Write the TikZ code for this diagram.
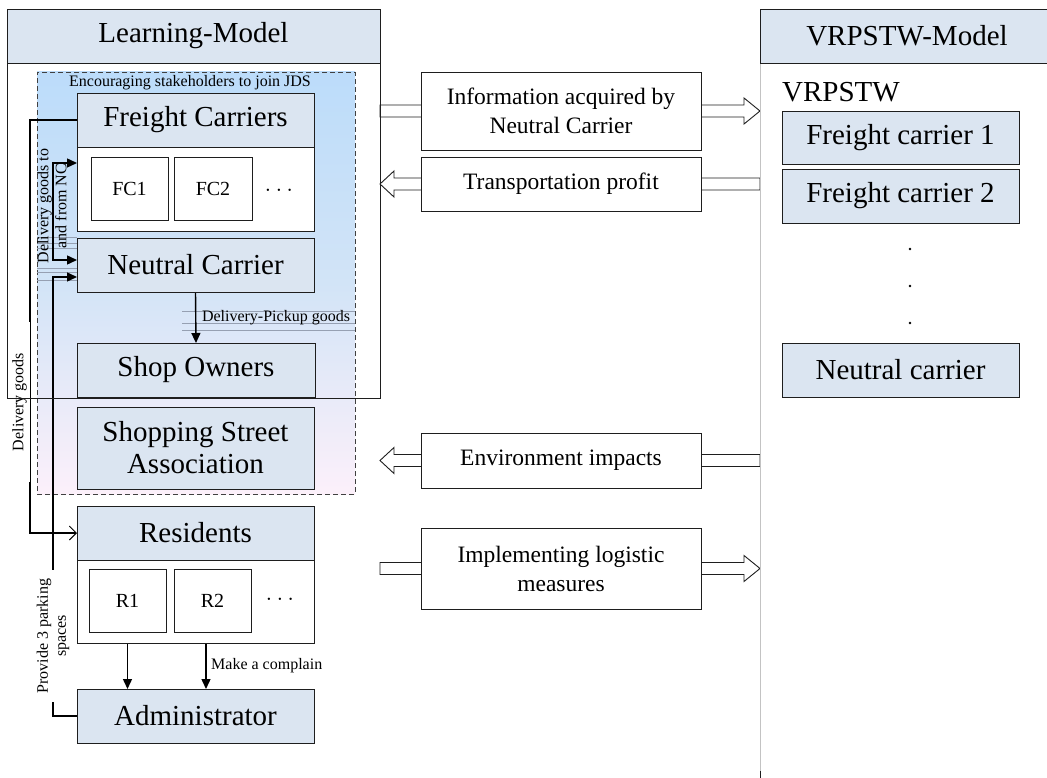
\documentclass[tikz,border=0pt]{standalone}
\usepackage{fontspec}
\setmainfont{Liberation Serif}
\usetikzlibrary{arrows.meta,calc}

\definecolor{hdrfill}{RGB}{219,229,241}
\definecolor{edge}{RGB}{30,30,30}
\definecolor{jdstop}{RGB}{188,220,250}
\definecolor{jdsmid}{RGB}{210,228,247}
\definecolor{jdsbot}{RGB}{252,240,250}
\definecolor{hatch}{RGB}{150,160,178}
\definecolor{panelline}{RGB}{195,195,195}

\newcommand{\fBig}{\fontsize{29}{32}\selectfont}
\newcommand{\fMid}{\fontsize{23.5}{29}\selectfont}
\newcommand{\fSmall}{\fontsize{16}{18}\selectfont}
\newcommand{\fItem}{\fontsize{20}{22}\selectfont}
\newcommand{\fDots}{\fontsize{26}{28}\selectfont}

\pgfdeclarelayer{back}
\pgfdeclarelayer{wires}
\pgfsetlayers{back,wires,main}

\tikzset{
  box/.style={rectangle, draw=edge, line width=0.9pt, inner sep=0pt, outer sep=0pt,
              anchor=north west, align=center, font=\fBig},
  hdr/.style={box, fill=hdrfill},
  wbox/.style={box, fill=white},
  item/.style={box, fill=white, font=\fItem},
  midbox/.style={box, fill=white, font=\fMid},
  jdsbox/.style={rectangle, anchor=north west, draw=edge!85, line width=0.9pt,
                 dash pattern=on 5pt off 3pt, minimum width=318, minimum height=422,
                 inner sep=0pt, outer sep=0pt,
                 top color=jdstop, bottom color=jdsbot, middle color=jdsmid},
  lbl/.style={font=\fSmall, inner sep=1pt, align=center},
  conn/.style={draw=black, line width=1.4pt},
  tip/.style={-{Triangle[length=10pt,width=9pt]}},
  twotip/.style={{Triangle[length=10pt,width=9pt]}-{Triangle[length=10pt,width=9pt]}},
  opentip/.style={-{Straight Barb[length=7pt,width=14pt,line width=0.9pt]}},
  hatchline/.style={draw=hatch, line width=0.4pt},
  blockR/.style={draw=edge, line width=0.9pt, fill=white,
    to path={let \p1=(\tikztostart), \p2=(\tikztotarget) in
      (\x1,\y1+6pt) -- (\x2-16pt,\y1+6pt) -- (\x2-16pt,\y1+13pt) -- (\x2,\y1)
      -- (\x2-16pt,\y1-13pt) -- (\x2-16pt,\y1-6pt) -- (\x1,\y1-6pt) -- cycle}},
  blockL/.style={draw=edge, line width=0.9pt, fill=white,
    to path={let \p1=(\tikztostart), \p2=(\tikztotarget) in
      (\x1,\y1+6pt) -- (\x2+14pt,\y1+6pt) -- (\x2+14pt,\y1+13pt) -- (\x2,\y1)
      -- (\x2+14pt,\y1-13pt) -- (\x2+14pt,\y1-6pt) -- (\x1,\y1-6pt) -- cycle}},
}

\begin{document}
\begin{tikzpicture}[x=1pt,y=-1pt]
\useasboundingbox (0,0) rectangle (1047,778);

% ---------- background: page and JDS region ----------
\begin{pgfonlayer}{back}
  \fill[white] (0,0) rectangle (1047,778);
  \node[jdsbox] (jds) at (37,72) {};
  \foreach \yy in {237,243,248,268,272,280} \draw[hatchline] (37,\yy) -- (77,\yy);
  \foreach \yy in {311,323,330} \draw[hatchline] (182,\yy) -- (355,\yy);
\end{pgfonlayer}

\node[lbl] (jdslbl) at (190,83) {Encouraging stakeholders to join JDS};

% ---------- stakeholders of the learning model ----------
\node[hdr, minimum width=237, minimum height=54] (fchead) at (77,93) {Freight Carriers};
\node[wbox, minimum width=237, minimum height=84] (fcbody) at (77,147) {};
\node[item, minimum width=77, minimum height=63] (fc1) at (91,157) {FC1};
\node[item, minimum width=78, minimum height=63] (fc2) at (174,157) {FC2};
\node[font=\fDots, inner sep=0pt] (fcdots) at (279,190) {$\dots$};

\node[hdr, minimum width=237, minimum height=54] (nc) at (77,238) {Neutral Carrier};
\node[hdr, minimum width=238, minimum height=54] (so) at (77,343) {Shop Owners};
\node[hdr, minimum width=237, minimum height=82] (ssa) at (77,407) {Shopping Street\\Association};

\node[hdr, minimum width=237, minimum height=54] (reshead) at (77,506) {Residents};
\node[wbox, minimum width=237, minimum height=83] (resbody) at (77,560) {};
\node[item, minimum width=77, minimum height=63] (r1) at (89,569) {R1};
\node[item, minimum width=77, minimum height=63] (r2) at (174,569) {R2};
\node[font=\fDots, inner sep=0pt] (resdots) at (280,599) {$\dots$};

\node[hdr, minimum width=237, minimum height=54] (adm) at (77,689) {Administrator};

% ---------- connector labels ----------
\node[lbl, fill=white, rotate=90, minimum width=160, minimum height=21, inner sep=0pt] (dgl) at (19.5,402) {Delivery goods};
\draw[line width=0.4pt] (dgl.south west) -- (dgl.south east);
\node[lbl, rotate=90] (dgncl) at (52,206) {Delivery goods to\\and from NC};
\node[lbl, fill=white, rotate=90, minimum width=132, minimum height=34, inner sep=0pt] (pvl) at (53,636) {Provide 3 parking\\spaces};
\node[lbl, anchor=center] (dpl) at (276,318) {Delivery-Pickup goods};
\node[lbl, anchor=west] (mcl) at (210,666) {Make a complain};

% ---------- model panels ----------
\node[hdr, minimum width=373, minimum height=54] (lmhead) at (7,9) {Learning-Model};
\node[box, minimum width=373, minimum height=335] (lmbody) at (7,63) {};

\node[hdr, minimum width=294, minimum height=54] (vrhead) at (760,9) {VRPSTW-Model};
\node[font=\fBig, anchor=base west, inner sep=0pt] (vrtitle) at (782,102) {VRPSTW};
\node[hdr, minimum width=237, minimum height=53] (vfc1) at (782,111) {Freight carrier 1};
\node[hdr, minimum width=237, minimum height=54] (vfc2) at (782,169) {Freight carrier 2};
\foreach \yy in {249,286,323} \fill (910,\yy) circle (1.4pt);
\node[hdr, minimum width=237, minimum height=54] (vnc) at (782,343) {Neutral carrier};

% ---------- exchanged information ----------
\node[midbox, minimum width=280, minimum height=78] (info) at (421,72) {Information acquired by\\Neutral Carrier};
\node[midbox, minimum width=280, minimum height=54] (profit) at (421,157) {Transportation profit};
\node[midbox, minimum width=280, minimum height=55] (env) at (421,433) {Environment impacts};
\node[midbox, minimum width=280, minimum height=81] (impl) at (421,528) {Implementing logistic\\measures};

% ---------- connectors ----------
\begin{pgfonlayer}{wires}
  \coordinate (dgx) at (30,0);
  \coordinate (dgA) at (53,163);
  \coordinate (dgB) at (53,260);
  \coordinate (pvA) at (53,277);
  \coordinate (mc) at (206,0);
  \coordinate (pagebot) at (0,778);

  \draw[conn, opentip] (fchead.west) -- (fchead.west -| dgx) -- (reshead.west -| dgx) -- (reshead.west);
  \draw[conn, twotip] (fcbody.west |- dgA) -- (dgA) -- (dgB) -- (nc.west |- dgB);
  \draw[conn, tip] (adm.west) -- (adm.west -| pvA) -- (pvA) -- (nc.west |- pvA);
  \draw[conn, tip] (nc.south) -- (so.north);
  \draw[conn, tip] (resbody.south -| r1.south) -- (adm.north -| r1.south);
  \draw[conn, tip] (resbody.south -| mc) -- (adm.north -| mc);

  \draw[blockR] (lmbody.east |- info.west) to (vrhead.west |- info.east);
  \draw[blockL] (vrhead.west |- profit.east) to (lmbody.east |- profit.west);
  \draw[blockL] (vrhead.west |- env.east) to (lmbody.east |- env.west);
  \draw[blockR] (lmbody.east |- impl.west) to (vrhead.west |- impl.east);

  \draw[panelline, line width=0.8pt] (vrhead.south west) -- (vrhead.south west |- pagebot);
  \draw[edge, line width=0.9pt] ($(vrhead.south west |- pagebot)+(0,-7)$) -- (vrhead.south west |- pagebot);
\end{pgfonlayer}
\end{tikzpicture}
\end{document}
